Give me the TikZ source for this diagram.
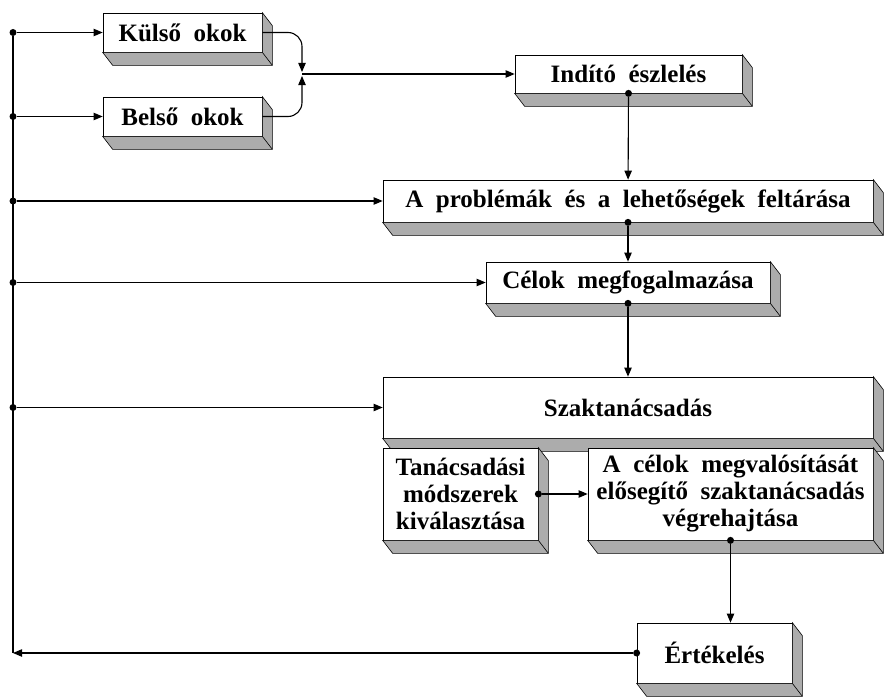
\documentclass[tikz,border=0pt]{standalone}
\usepackage{fontspec}
\setmainfont{Liberation Serif}
\usepackage{tikz}
\usetikzlibrary{arrows,calc}

% szurke oldallapok a doboz alatt es jobbra
\newcommand{\hasab}[1]{%
\filldraw[fill=gray!65, line width=0.6pt] (#1.north east) -- ++(10,13) -- ($(#1.south east)+(10,13)$) -- ($(#1.south west)+(10,13)$) -- (#1.south west) -- (#1.south east) -- cycle;
\draw[line width=0.6pt] (#1.south east) -- ++(10,13);}

\begin{document}
\begin{tikzpicture}[x=1pt,y=-1pt]
\tikzstyle{doboz} = [draw, fill=white, line width=0.7pt, inner sep=0pt, align=center, font=\fontsize{25}{27}\selectfont\bfseries]
\tikzstyle{nyil} = [-triangle 45, line width=1.1pt]
\tikzstyle{pont} = [fill, circle, inner sep=0pt, minimum size=7pt]
\useasboundingbox (0,0) rectangle (884,698);

\node[doboz, minimum width=159pt, minimum height=39pt] (v1) at (182.5,32.5) {Külső~ okok};
\hasab{v1}
\node[doboz, minimum width=159pt, minimum height=39pt] (v2) at (182.5,116.5) {Belső~ okok};
\hasab{v2}
\node[doboz, minimum width=227pt, minimum height=38pt] (v3) at (628.5,74) {Indító~ észlelés};
\hasab{v3}
\node[doboz, minimum width=490pt, minimum height=42pt] (v4) at (628,201) {A~ problémák~ és~ a~ lehetőségek~ feltárása};
\hasab{v4}
\node[doboz, minimum width=284pt, minimum height=41pt] (v5) at (628,282.5) {Célok~ megfogalmazása};
\hasab{v5}
\node[doboz, minimum width=490pt, minimum height=61pt] (v6) at (628,407.5) {Szaktanácsadás};
\hasab{v6}
\node[doboz, minimum width=155pt, minimum height=92pt] (v7) at (460.5,494) {Tanácsadási\\módszerek\\kiválasztása};
\hasab{v7}
\node[doboz, minimum width=285pt, minimum height=92pt] (v8) at (730.5,494) {A~ célok~ megvalósítását\\elősegítő~ szaktanácsadás\\végrehajtása};
\hasab{v8}
\node[doboz, minimum width=155pt, minimum height=60pt] (v9) at (714.5,653) {Értékelés};
\hasab{v9}

% bal oldali gyujtovonal
\node[pont] (p1) at (13,32.5) {};
\node[pont] (p2) at (13,116.5) {};
\node[pont] (p3) at (13,201) {};
\node[pont] (p4) at (13,282.5) {};
\node[pont] (p5) at (13,407.5) {};
\coordinate (b0) at (13,653);
\draw[line width=1.1pt] (p1) -- (b0);
\draw[nyil] (p1) -- (v1);
\draw[nyil] (p2) -- (v2);
\draw[nyil] (p3) -- (v4);
\draw[nyil] (p4) -- (v5);
\draw[nyil] (p5) -- (v6);

% okok osszefutasa
\coordinate (j) at (302,74);
\draw[nyil, rounded corners=14pt] (v1.east) -| ($(j)+(0,-2)$);
\draw[nyil, rounded corners=14pt] (v2.east) -| ($(j)+(0,2)$);
\draw[nyil] (j) -- (v3);

\node[pont] (d1) at (v3.south) {};
\node[pont] (d2) at (v4.south) {};
\node[pont] (d3) at (v5.south) {};
\node[pont] (d4) at (v7.east) {};
\node[pont] (d5) at (v8.south) {};
\node[pont] (d6) at (v9.west) {};
\draw[nyil] (d1) -- (v4);
\draw[nyil] (d2) -- (v5);
\draw[nyil] (d3) -- (v6);
\draw[nyil] (d4) -- (v8);
\draw[nyil] (d5) -- (d5 |- v9.north);
\draw[nyil] (d6) -- (b0);
\end{tikzpicture}
\end{document}
